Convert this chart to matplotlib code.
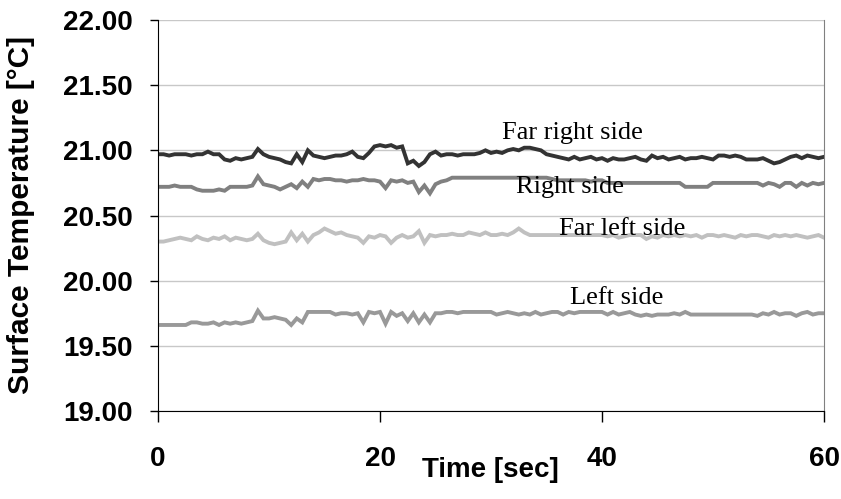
import numpy as np
import matplotlib
matplotlib.use("Agg")
import matplotlib.pyplot as plt

# Time axis: one reading every 0.5 s
time_s = np.arange(0, 60.5, 0.5)

far_right = [20.97, 20.97, 20.96, 20.97, 20.97, 20.97, 20.96, 20.97, 20.97,
             20.99,
             20.97, 20.97,
             20.93, 20.92, 20.94, 20.93, 20.94, 20.95,
             21.01,
             20.97, 20.95, 20.94, 20.93, 20.91, 20.90,
             20.97, 20.91, 21.00, 20.96, 20.95,
             20.94, 20.95, 20.96, 20.96, 20.97, 20.99, 20.95,
             20.94, 20.98,
             21.03, 21.04, 21.03, 21.04, 21.02,
             21.03,
             20.90, 20.92, 20.88, 20.91,
             20.97, 20.99,
             20.96, 20.97, 20.97, 20.96, 20.97, 20.97, 20.97, 20.98,
             21.00, 20.98,
             20.99, 20.98, 21.00, 21.01, 21.00, 21.02,
             21.02, 21.01, 21.00,
             20.97, 20.96, 20.95,
             20.94, 20.93, 20.95, 20.93, 20.94, 20.95, 20.93, 20.94,
             20.92, 20.94, 20.93, 20.93, 20.94, 20.95, 20.93, 20.92,
             20.96,
             20.94, 20.95, 20.93, 20.94, 20.95, 20.93, 20.94, 20.94, 20.95, 20.94, 20.93,
             20.96, 20.96, 20.95, 20.96, 20.95, 20.93,
             20.93, 20.93, 20.94, 20.92,
             20.90, 20.91,
             20.93, 20.95, 20.96, 20.94, 20.96, 20.95, 20.94, 20.95]

right = [20.72, 20.72, 20.72, 20.73, 20.72, 20.72, 20.72,
         20.70, 20.69, 20.69, 20.69, 20.70, 20.69,
         20.72, 20.72, 20.72, 20.72, 20.73,
         20.80,
         20.74, 20.73, 20.72,
         20.70,
         20.72, 20.74, 20.71, 20.76, 20.72, 20.78, 20.77,
         20.78, 20.78, 20.77, 20.77, 20.76, 20.77, 20.77, 20.78, 20.77, 20.77,
         20.76, 20.71,
         20.77, 20.76, 20.77, 20.75, 20.76,
         20.68, 20.73, 20.67, 20.74,
         20.76, 20.77,
         20.79, 20.79, 20.79, 20.79, 20.79, 20.79, 20.79, 20.79, 20.79,
         20.79, 20.79, 20.79, 20.79, 20.79, 20.79, 20.79, 20.79, 20.79,
         20.78, 20.77, 20.77, 20.77, 20.77, 20.77, 20.77, 20.76, 20.77, 20.77,
         20.75, 20.75, 20.75, 20.75, 20.75, 20.75, 20.75,
         20.75, 20.75, 20.75, 20.75, 20.75, 20.75, 20.75,
         20.72, 20.72, 20.72, 20.72, 20.72,
         20.75, 20.75, 20.75, 20.75, 20.75, 20.75, 20.75, 20.75, 20.75,
         20.73, 20.75, 20.74, 20.72, 20.75, 20.75, 20.72, 20.75, 20.73, 20.75, 20.74, 20.75]

far_left = [20.30, 20.30, 20.31,
            20.32, 20.33, 20.32, 20.31, 20.34, 20.32, 20.31, 20.33,
            20.32, 20.34, 20.31, 20.33, 20.32, 20.31, 20.32,
            20.36,
            20.31, 20.29, 20.28, 20.29, 20.30,
            20.37, 20.31, 20.36, 20.30, 20.35, 20.37,
            20.40, 20.38, 20.36, 20.37, 20.35,
            20.34, 20.33, 20.29, 20.34, 20.33, 20.35,
            20.34, 20.29, 20.33, 20.35, 20.33, 20.34,
            20.38, 20.29, 20.35, 20.34,
            20.35, 20.35, 20.36, 20.35, 20.35, 20.37, 20.36, 20.35, 20.37, 20.35,
            20.35, 20.36, 20.35, 20.37, 20.40, 20.37, 20.35,
            20.35, 20.35, 20.35, 20.35, 20.35, 20.35, 20.35, 20.35, 20.35, 20.35,
            20.35, 20.35, 20.35,
            20.34, 20.35, 20.33, 20.34, 20.35, 20.35, 20.35, 20.32, 20.34, 20.33,
            20.35, 20.34, 20.35, 20.34,
            20.35, 20.34, 20.35, 20.33, 20.35, 20.35, 20.34, 20.35, 20.34, 20.33,
            20.35, 20.34, 20.35, 20.35, 20.34, 20.33, 20.35, 20.34, 20.35, 20.34,
            20.35, 20.34, 20.33, 20.34, 20.35, 20.33]

left = [19.66, 19.66, 19.66, 19.66, 19.66, 19.66,
        19.68, 19.68, 19.67, 19.67, 19.68, 19.66, 19.68, 19.67, 19.68, 19.67, 19.68, 19.69,
        19.77,
        19.71, 19.71, 19.72, 19.71,
        19.70, 19.66, 19.71, 19.68,
        19.76, 19.76, 19.76, 19.76, 19.76,
        19.74, 19.75, 19.75, 19.74, 19.75,
        19.68,
        19.76, 19.75, 19.76,
        19.67,
        19.76, 19.73, 19.75,
        19.69, 19.75, 19.68, 19.74, 19.68, 19.75,
        19.75, 19.76, 19.76, 19.75, 19.76, 19.76, 19.76, 19.76, 19.76, 19.76,
        19.74, 19.75, 19.76, 19.75, 19.74, 19.75, 19.74, 19.76, 19.74, 19.75,
        19.76, 19.76, 19.74, 19.76, 19.75, 19.76, 19.76, 19.76, 19.76, 19.76,
        19.74, 19.76, 19.74, 19.75, 19.76, 19.74, 19.73, 19.74, 19.73, 19.74,
        19.74, 19.74, 19.75, 19.74, 19.76, 19.74, 19.74, 19.74, 19.74, 19.74,
        19.74, 19.74, 19.74, 19.74, 19.74, 19.74, 19.74, 19.73, 19.75, 19.74,
        19.76, 19.74, 19.75, 19.75, 19.73, 19.75, 19.76, 19.74, 19.75, 19.75]

series = [
    # name, values, colour, label position (t, value)
    ("Far right side", far_right, "#333333", (37.3, 21.13)),
    ("Right side", right, "#808080", (37.1, 20.72)),
    ("Far left side", far_left, "#c0c0c0", (41.8, 20.40)),
    ("Left side", left, "#999999", (41.3, 19.87)),
]

fig = plt.figure(figsize=(8.41, 4.99), dpi=100)
ax = fig.add_axes([158 / 841, 1 - 411 / 499, 666 / 841, 391 / 499])

for name, vals, col, (tx, ty) in series:
    ax.plot(time_s, vals, color=col, lw=2.8, solid_joinstyle="miter")
    ax.text(tx, ty, name, fontsize=19, family="Liberation Serif",
            ha="center", va="center")

ax.set_xlim(0, 60)
ax.set_ylim(19, 22)
ax.set_xticks([0, 20, 40, 60])
ax.set_yticks(np.arange(19, 22.01, 0.5))
ax.yaxis.set_major_formatter(matplotlib.ticker.FormatStrFormatter("%.2f"))
ax.grid(axis="y", color="#c8c8c8", lw=1)
ax.set_axisbelow(True)

ax.spines["top"].set_visible(False)
ax.spines["right"].set_color("#808080")
ax.spines["left"].set_color("black")
ax.spines["bottom"].set_color("black")

ax.tick_params(axis="y", direction="out", length=6, width=1, pad=12,
               labelsize=20)
ax.tick_params(axis="x", direction="out", length=8, width=1, pad=17,
               labelsize=20)
for lab in ax.get_xticklabels() + ax.get_yticklabels():
    lab.set_fontweight("bold")
    lab.set_family("Liberation Sans")

fig.text(21 / 841, 1 - 215 / 499, "Surface Temperature [°C]", rotation=90,
         ha="center", va="center", fontsize=21.5, fontweight="bold",
         family="Liberation Sans")
fig.text(490 / 841, 1 - 470 / 499, "Time [sec]", ha="center", va="center",
         fontsize=20, fontweight="bold", family="Liberation Sans")

fig.savefig("out.png", dpi=100)
